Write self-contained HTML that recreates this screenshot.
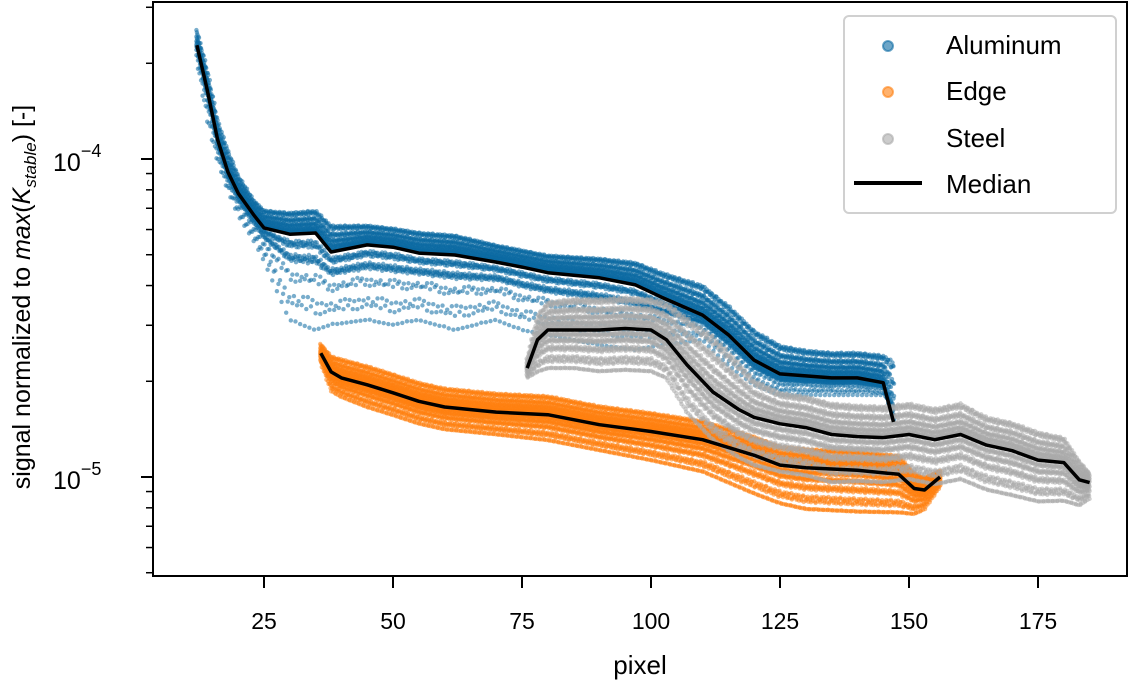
<!DOCTYPE html>
<html><head><meta charset="utf-8"><style>
html,body{margin:0;padding:0;background:#fff;}
svg{display:block;font-family:"Liberation Sans","DejaVu Sans",sans-serif;}
</style></head><body>
<svg id="chart" width="1134" height="684" viewBox="0 0 1134 684" xmlns="http://www.w3.org/2000/svg">
<g id="clouds"></g>
<g id="medians"></g>
<g id="axes"></g>
<text x="640" y="674" font-size="26" text-anchor="middle">pixel</text>
<text transform="translate(30,297) rotate(-90)" font-size="25" text-anchor="middle">signal normalized to <tspan font-style="italic">max</tspan>(<tspan font-style="italic">K</tspan><tspan font-style="italic" font-size="17" dy="6">stable</tspan><tspan dy="-6">) [-]</tspan></text>
<g>
<rect x="844" y="16" width="272" height="197" rx="5" fill="#fff" fill-opacity="0.8" stroke="#d0d0d0" stroke-width="2"/>
<g><circle cx="888" cy="46" r="5" fill="#0b6aa3" fill-opacity="0.6" stroke="#0b6aa3" stroke-opacity="0.6" stroke-width="2"/><text x="946" y="54" font-size="26">Aluminum</text></g>
<g><circle cx="888" cy="92" r="5" fill="#ff7f0e" fill-opacity="0.6" stroke="#ff7f0e" stroke-opacity="0.6" stroke-width="2"/><text x="946" y="100" font-size="26">Edge</text></g>
<g><circle cx="888" cy="139" r="5" fill="#aaa" fill-opacity="0.6" stroke="#aaa" stroke-opacity="0.6" stroke-width="2"/><text x="946" y="147" font-size="26">Steel</text></g>
<g><line x1="854" y1="183" x2="922" y2="183" stroke="#000" stroke-width="4"/><text x="946" y="193" font-size="26">Median</text></g>
</g>
</svg>
<script>
// ---- data ----
const alX = [12,14,16,18,20,23,25,30,35,38,45,50,55,62,70,75,80,90,97,102,110,115,120,125,130,135,140,145,147];
const alMedian = [2.28e-4,1.65e-4,1.15e-4,9.1e-5,7.8e-5,6.67e-5,6.07e-5,5.8e-5,5.85e-5,5.1e-5,5.37e-5,5.28e-5,5.06e-5,4.99e-5,4.74e-5,4.57e-5,4.39e-5,4.23e-5,4.02e-5,3.68e-5,3.23e-5,2.8e-5,2.33e-5,2.11e-5,2.08e-5,2.05e-5,2.05e-5,1.98e-5,1.49e-5];
const alUpper = [2.55e-4,1.91e-4,1.33e-4,1.07e-4,8.9e-5,7.43e-5,6.91e-5,6.8e-5,6.91e-5,6.2e-5,6.2e-5,6.07e-5,5.89e-5,5.77e-5,5.37e-5,5.18e-5,4.99e-5,4.88e-5,4.74e-5,4.41e-5,4.02e-5,3.47e-5,2.9e-5,2.6e-5,2.51e-5,2.47e-5,2.47e-5,2.42e-5,2.33e-5];
const alLower = [2.05e-4,1.33e-4,9.9e-5,8.0e-5,6.67e-5,5.56e-5,4.81e-5,3.12e-5,2.9e-5,3.01e-5,3.12e-5,3.01e-5,3.12e-5,2.9e-5,3.12e-5,2.9e-5,2.8e-5,2.6e-5,2.51e-5,2.6e-5,2.7e-5,2.25e-5,1.95e-5,1.81e-5,1.81e-5,1.81e-5,1.81e-5,1.81e-5,1.75e-5];

const edX = [36,38,40,45,50,55,60,70,80,90,100,110,120,125,130,140,148,151,153,156];
const edMedian = [2.45e-5,2.14e-5,2.05e-5,1.95e-5,1.84e-5,1.73e-5,1.66e-5,1.6e-5,1.57e-5,1.46e-5,1.39e-5,1.31e-5,1.17e-5,1.09e-5,1.07e-5,1.05e-5,1.02e-5,9.2e-6,9.1e-6,1.0e-5];
const edUpDec = [.03,.05,.06,.06,.06,.06,.06,.06,.06,.06,.06,.06,.06,.06,.06,.06,.06,.05,.04,.02];
const edDownDec = [.03,.06,.06,.07,.07,.07,.07,.07,.08,.08,.09,.1,.12,.12,.13,.13,.12,.08,.06,.03];

const stX = [76,78,80,85,90,95,100,103,107,112,117,120,125,130,135,140,145,150,155,160,165,170,175,180,183,185];
const stMedian = [2.2e-5,2.7e-5,2.9e-5,2.9e-5,2.9e-5,2.93e-5,2.9e-5,2.7e-5,2.25e-5,1.85e-5,1.63e-5,1.54e-5,1.47e-5,1.43e-5,1.36e-5,1.34e-5,1.33e-5,1.36e-5,1.31e-5,1.36e-5,1.26e-5,1.21e-5,1.13e-5,1.11e-5,9.8e-6,9.6e-6];
const stUpDec = [.03,.08,.09,.1,.1,.1,.1,.12,.15,.18,.15,.12,.1,.1,.1,.1,.1,.1,.1,.1,.09,.09,.09,.08,.06,.03];
const stDownDec = [.03,.1,.12,.12,.13,.13,.13,.12,.15,.15,.15,.15,.15,.15,.15,.14,.14,.14,.14,.14,.14,.14,.13,.12,.08,.05];

const xTicks = [25,50,75,100,125,150,175];
const yMajor = [1e-5,1e-4];
const yMajorExp = ["−5","−4"];
const yMinor = [5e-6,6e-6,7e-6,8e-6,9e-6,2e-5,3e-5,4e-5,5e-5,6e-5,7e-5,8e-5,9e-5,2e-4,3e-4];

// ---- scales ----
const L=153,R=1127,T=2,B=576;
const X = v => 264 + (v-25)*5.16;
const Y = v => 477 - (Math.log10(v)+5)*318;
const NS="http://www.w3.org/2000/svg";
function mk(tag, attrs, parent){const e=document.createElementNS(NS,tag);for(const k in attrs)e.setAttribute(k,attrs[k]);parent.appendChild(e);return e;}
function interp(xs, ys, x){
  if(x<=xs[0])return ys[0];
  for(let i=1;i<xs.length;i++){if(x<=xs[i]){const t=(x-xs[i-1])/(xs[i]-xs[i-1]);return ys[i-1]+t*(ys[i]-ys[i-1]);}}
  return ys[ys.length-1];
}
const fracsUp=[0.95,0.8,0.66,0.53,0.42,0.32,0.23,0.15,0.08,0.02];
const fracsDown=[0.06,0.13,0.21,0.3,0.4,0.52,0.66,0.82,0.97];
const shifts=[0,0.037,0.071,0.019,0.055,0.011,0.046,0.028];

const clouds=document.getElementById('clouds');
function cloud(name,color,xs,med,hiLog,loLog,sparseLow){
  const g=mk('g',{fill:color,'fill-opacity':0.55},clouds);
  
  
  const x0=xs[0],x1=xs[xs.length-1];
  const mLog=med.map(Math.log10);
  let k=0;
  for(let x=x0;x<=x1+1e-9;x+=0.3,k++){
    const m=interp(xs,mLog,x);
    const hi=interp(xs,hiLog,x), lo=interp(xs,loLog,x);
    const sh=shifts[k%shifts.length];
    fracsUp.forEach((f,i)=>{
      const ff=Math.min(1,f+sh*((i%2)?1:-1)+0.03);
      const lv=m+ff*hi;
      mk('circle',{cx:X(x+((i+k)%3-1)*0.1),cy:Y(Math.pow(10,lv)),r:2.2},g);
    });
    fracsDown.forEach((f,i)=>{
      if(sparseLow && i>=4 && ((i+k)%3)!==0) return;
      const ff=Math.min(1,f+sh*((i%2)?-1:1)+0.02);
      const lv=m-ff*lo;
      mk('circle',{cx:X(x+((i+k)%3-1)*0.1),cy:Y(Math.pow(10,lv)),r:2.2},g);
    });
  }
}
const alHi=alUpper.map((u,i)=>Math.log10(u)-Math.log10(alMedian[i]));
const alLo=alLower.map((u,i)=>Math.log10(alMedian[i])-Math.log10(u));
cloud('aluminum','#0b6aa3',alX,alMedian,alHi,alLo,true);
cloud('edge','#ff7f0e',edX,edMedian,edUpDec,edDownDec,false);
cloud('steel','#aaaaaa',stX,stMedian,stUpDec,stDownDec,false);

const med=document.getElementById('medians');
[['aluminum',alX,alMedian],['edge',edX,edMedian],['steel',stX,stMedian]].forEach(([n,xs,ys])=>{
  const p=mk('path',{d:xs.map((x,i)=>(i?'L':'M')+X(x).toFixed(1)+','+Y(ys[i]).toFixed(1)).join(''),fill:'none',stroke:'#000','stroke-width':3.5,'stroke-linejoin':'round'},med);
  
  
});

const ax=document.getElementById('axes');
const frame=mk('rect',{x:L,y:T,width:R-L,height:B-T,fill:'none',stroke:'#000','stroke-width':2},ax);


xTicks.forEach(v=>{
  mk('line',{x1:X(v),x2:X(v),y1:B,y2:B+12,stroke:'#000','stroke-width':2},ax);
  const t=mk('text',{x:X(v),y:629,'font-size':23,'text-anchor':'middle'},ax);
  t.textContent=v;
  
  
});
yMajor.forEach((v,i)=>{
  mk('line',{x1:L-12,x2:L,y1:Y(v),y2:Y(v),stroke:'#000','stroke-width':2},ax);
  const t=mk('text',{x:53,y:Y(v)+12,'font-size':25},ax);
  
  
  t.textContent='10';
  const s=mk('tspan',{'font-size':18,dy:-14},t); s.textContent=yMajorExp[i];
});
yMinor.forEach(v=>{
  if(Y(v)<T||Y(v)>B)return;
  mk('line',{x1:L-7,x2:L,y1:Y(v),y2:Y(v),stroke:'#000','stroke-width':1.5},ax);
});
</script>
</body></html>
